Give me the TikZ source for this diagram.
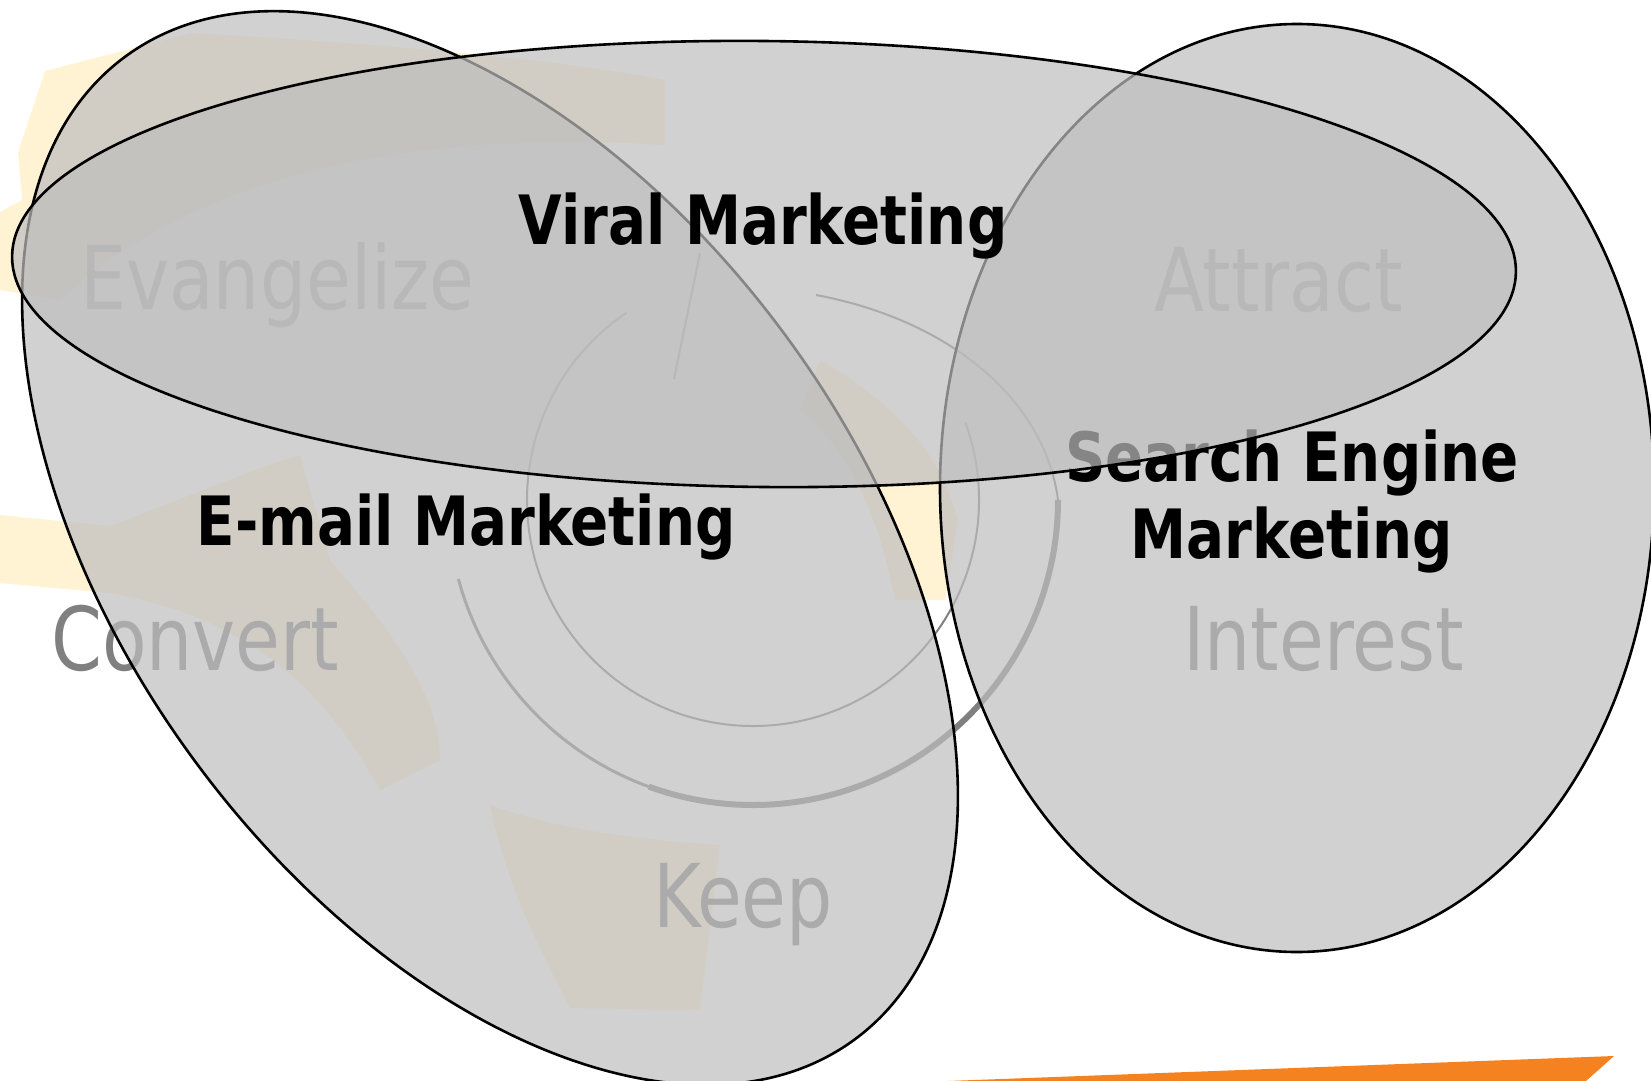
\documentclass[tikz,border=0pt]{standalone}
\usepackage{fontspec}
\newfontfamily\tahoma[FakeStretch=0.92]{DejaVu Sans Condensed}
\definecolor{paleyellow}{RGB}{255,243,212}
\definecolor{setgray}{RGB}{190,190,190}
\definecolor{stripeorange}{RGB}{245,130,32}

\begin{document}
\begin{tikzpicture}[x=1pt, y=-1pt,
    setfill/.style={fill=setgray, fill opacity=0.7, draw=black, line width=2.6pt},
    bigword/.style={font=\tahoma\bfseries\fontsize{68}{77}\selectfont, inner sep=0pt, anchor=base, align=center},
    stageword/.style={font=\tahoma\fontsize{88}{100}\selectfont, text=gray, inner sep=0pt, anchor=base west},
    blade/.style={fill=paleyellow, draw=none},
    ringline/.style={draw=gray, line width=2pt}]
    \useasboundingbox (0,0) rectangle (1651,1081);

    \fill[blade] (45,71) -- (192,33) .. controls (400,45) and (560,60) .. (665,80)
        -- (665,145) .. controls (420,130) and (200,170) .. (60,300) -- (0,290) -- (0,212)
        -- (22,200) -- (18,152) -- cycle;
    \fill[blade] (0,515) -- (110,526) .. controls (180,500) and (250,470) .. (300,455)
        -- (330,560) .. controls (400,640) and (440,700) .. (440,760)
        -- (380,790) .. controls (330,700) and (260,620) .. (110,593) -- (0,583) -- cycle;
    \fill[blade] (490,805) .. controls (560,830) and (640,840) .. (720,845)
        -- (700,1010) -- (570,1008) .. controls (535,940) and (505,880) .. (490,805) -- cycle;
    \fill[blade] (820,360) .. controls (890,400) and (940,450) .. (958,520)
        -- (945,600) -- (895,600) .. controls (880,520) and (850,450) .. (800,410) -- cycle;
    \fill[stripeorange] (948,1081) -- (1614,1056) -- (1586,1081) -- cycle;

    \draw[ringline] (753,500) ++(236:226) arc[start angle=236, end angle=-20, radius=226];
    \draw[ringline] (816,295) .. controls (950,320) and (1045,400) .. (1058,500);
    \draw[ringline] (700,253) -- (674,379);
    \draw[gray, line width=6pt] (753,500) ++(0:305) arc[start angle=0, end angle=110, radius=305];
    \draw[gray, line width=3pt] (753,500) ++(110:305) arc[start angle=110, end angle=165, radius=305];

    \node[stageword] (evangelize) at (80,309) {Evangelize};
    \node[stageword] (attract) at (1154,311) {Attract};
    \node[stageword] (interest) at (1183,670) {Interest};
    \node[stageword] (convert) at (51,670) {Convert};
    \node[stageword] (keep) at (653,927) {Keep};

    \draw[setfill, rotate around={-53.3:(490,548)}] (490,548) ellipse [x radius=612, y radius=364];
    \draw[setfill] (1297,488) ellipse [x radius=357, y radius=464];
    \node[bigword] (sem) at (1292,558) {Search Engine\\Marketing};
    \draw[setfill, rotate around={-0.6:(764,264)}] (764,264) ellipse [x radius=752, y radius=223];

    \node[bigword] (viral) at (763,244) {Viral Marketing};
    \node[bigword] (email) at (466,545) {E-mail Marketing};
\end{tikzpicture}
\end{document}
